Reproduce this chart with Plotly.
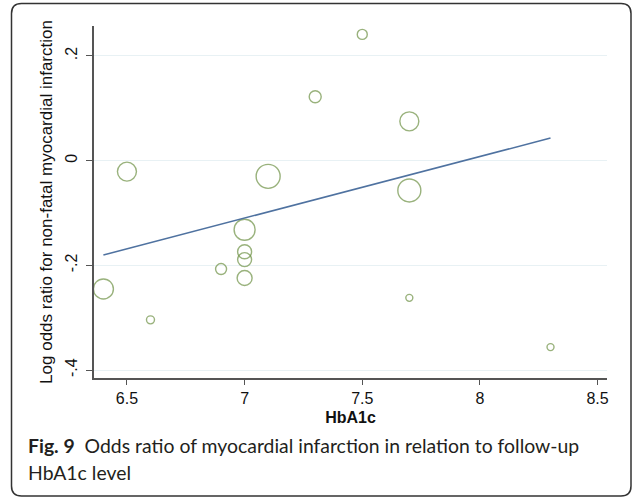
import plotly.graph_objects as go

# ---- data ----
hba1c = [6.4, 6.5, 6.6, 6.9, 7.0, 7.0, 7.0, 7.0, 7.1, 7.3, 7.5, 7.7, 7.7, 7.7, 8.3]
log_or = [-0.245, -0.021, -0.304, -0.207, -0.132, -0.174, -0.189, -0.224,
          -0.030, 0.122, 0.241, 0.075, -0.057, -0.262, -0.356]
weight = [20, 19, 8, 11, 21, 14, 14, 15, 24, 12, 10, 19, 23, 7, 7]
fit_x = [6.4, 8.3]
fit_y = [-0.180, 0.043]
x_ticks = [6.5, 7, 7.5, 8, 8.5]
x_tick_labels = ["6.5", "7", "7.5", "8", "8.5"]
y_ticks = [0.2, 0, -0.2, -0.4]
y_tick_labels = [".2", "0", "-.2", "-.4"]

W, H = 632, 499
ML, MR, MT, MB = 94, 25, 26, 121
PW, PH = W - ML - MR, H - MT - MB


def px(x):
    return (x - ML) / PW


def py(y):
    return (H - MB - y) / PH


fig = go.Figure()
fig.add_trace(go.Scatter(
    x=hba1c, y=log_or, mode="markers",
    marker=dict(size=weight, sizemode="diameter", color="rgba(0,0,0,0)",
                line=dict(color="#6f9246", width=1.4)),
    showlegend=False, hoverinfo="x+y"))
fig.add_trace(go.Scatter(
    x=fit_x, y=fit_y, mode="lines",
    line=dict(color="#4f72a0", width=1.6), showlegend=False))

# rounded outer frame
x0, x1 = px(11.5), px(631)
y0, y1 = py(3.5), py(496)
r = 10
rx, ry = r / PW, r / PH
path = (f"M {x0+rx},{y0} L {x1-rx},{y0} Q {x1},{y0} {x1},{y0-ry} "
        f"L {x1},{y1+ry} Q {x1},{y1} {x1-rx},{y1} "
        f"L {x0+rx},{y1} Q {x0},{y1} {x0},{y1+ry} "
        f"L {x0},{y0-ry} Q {x0},{y0} {x0+rx},{y0} Z")
fig.add_shape(type="path", path=path, xref="paper", yref="paper",
              line=dict(color="#333333", width=1.5), layer="below")

cap_font = dict(family="Lato", size=19.4, color="#231f20")
fig.add_annotation(
    x=px(26), y=py(445), xref="paper", yref="paper", xanchor="left", yanchor="middle",
    text="<b>Fig. 9</b>  Odds ratio of myocardial infarction in relation to follow-up",
    showarrow=False, font=cap_font)
fig.add_annotation(
    x=px(26), y=py(472), xref="paper", yref="paper", xanchor="left", yanchor="middle",
    text="HbA1c level", showarrow=False, font=cap_font)

fig.update_layout(
    width=W, height=H, margin=dict(l=ML, r=MR, t=MT, b=MB),
    paper_bgcolor="white", plot_bgcolor="white",
    font=dict(family="Liberation Sans, Arial", color="#111111"),
    xaxis=dict(range=[6.36, 8.54], tickvals=x_ticks, ticktext=x_tick_labels,
               showgrid=False, zeroline=False, showline=True, linecolor="#555555",
               linewidth=1.5, ticks="outside", ticklen=5, tickcolor="#555555",
               tickfont=dict(size=16),
               title=dict(text="<b>HbA1c</b>", font=dict(size=16), standoff=6)),
    yaxis=dict(range=[-0.415, 0.257], tickvals=y_ticks, ticktext=y_tick_labels,
               tickangle=-90, showgrid=True, gridcolor="#e8f1f4", gridwidth=1,
               zeroline=False, showline=True, linecolor="#555555", linewidth=1.5,
               ticks="outside", ticklen=6, tickcolor="#555555",
               ticklabelstandoff=3,
               tickfont=dict(size=16),
               title=dict(text="Log odds ratio for non-fatal myocardial infarction",
                          font=dict(size=17), standoff=6)),
)

fig.write_html("out.html")
